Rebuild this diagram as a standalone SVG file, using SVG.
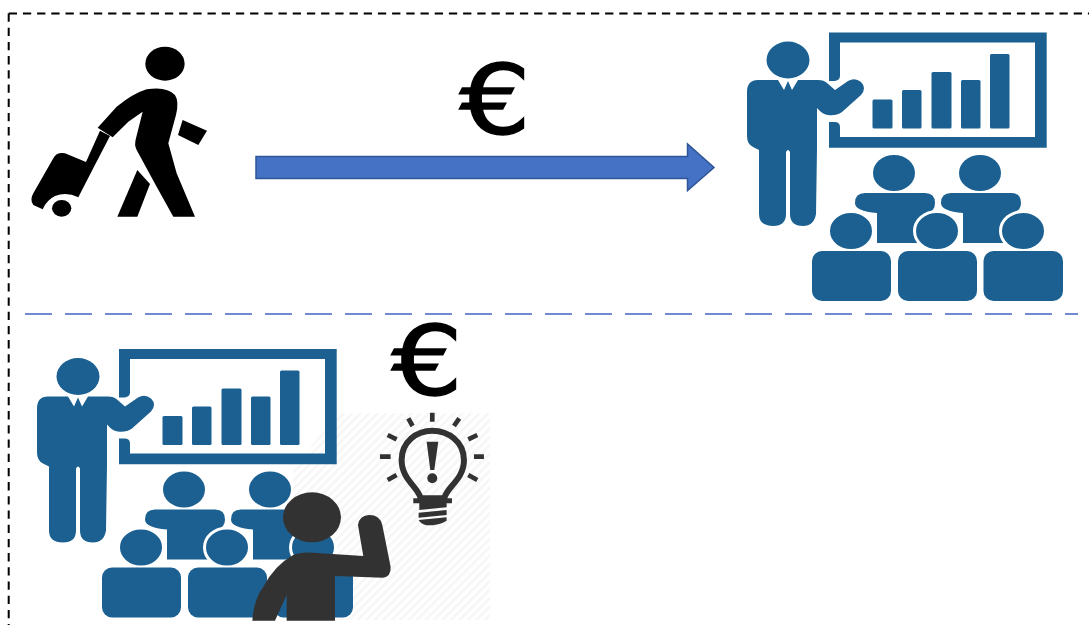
<svg xmlns="http://www.w3.org/2000/svg" width="1089" height="625" viewBox="0 0 1089 625">
<style>
.blue{fill:#1a6091}
.halo{fill:#1a6091;stroke:#fff;stroke-width:3}
.dark{fill:#333}
.ink{fill:#000}
.euro{font-family:"DejaVu Sans",sans-serif;font-size:100px;fill:#000;stroke:#000;stroke-width:1.500;text-anchor:middle}
.ray{stroke:#333;stroke-width:14;fill:none}
</style>
<defs>
<filter id="soft" x="-5%" y="-5%" width="110%" height="110%"><feGaussianBlur stdDeviation="0.5"/></filter>
<pattern id="hatch" width="6" height="6" patternUnits="userSpaceOnUse" patternTransform="rotate(-45)"><rect width="6" height="2.500" fill="#f6f6f6"/></pattern>
<g id="presenter">
<path class="blue" fill-rule="evenodd" d="M829 32.5H1046.7V147.7H829V122H834.5Q840 122 840 127V137H1035V42.5H840V76Q840 80 835 81H829Z"/>
<rect class="blue" x="872.5" y="99.5" width="20" height="29" rx="1.5"/>
<rect class="blue" x="902" y="90" width="19.5" height="38.5" rx="1.5"/>
<rect class="blue" x="931.5" y="72" width="20" height="56.5" rx="1.5"/>
<rect class="blue" x="961" y="80" width="19.5" height="48.5" rx="1.5"/>
<rect class="blue" x="990" y="54" width="19.5" height="74.5" rx="1.5"/>
<ellipse class="blue" cx="788" cy="60" rx="21.5" ry="18.5"/>
<path class="blue" d="M758 80H778L784 90L788 81L792 90L798 80H818Q824 80 827 83L835 90L848 81Q855 77 861 82Q867 88 861 95L842 112Q836 116 828 115Q823 115 817 108V148L816 214Q814 226 803 226Q790 226 790 214V152Q788 148 786 152V214Q786 226 773 226Q759 226 759 214V150L753 147Q747 144 747 136V92Q747 80 758 80Z"/>
<ellipse class="blue" cx="894" cy="173" rx="21" ry="18"/>
<ellipse class="blue" cx="980" cy="173" rx="21" ry="18"/>
<path class="blue" d="M865 193H925Q935 193 935 203Q935 211 927 213V243H877V213Q855 211 855 203Q855 193 865 193Z"/>
<path class="blue" d="M951 193H1011Q1021 193 1021 203Q1021 211 1013 213V243H963V213Q941 211 941 203Q941 193 951 193Z"/>
<ellipse class="halo" cx="851" cy="231" rx="22.5" ry="19.500"/>
<ellipse class="halo" cx="937" cy="231" rx="22.5" ry="19.500"/>
<ellipse class="halo" cx="1023" cy="231" rx="22.5" ry="19.500"/>
<rect class="blue" x="812" y="251" width="79" height="50" rx="10"/>
<rect class="blue" x="898" y="251" width="79" height="50" rx="10"/>
<rect class="blue" x="983.500" y="251" width="79.500" height="50" rx="10"/>
</g>
</defs>
<rect width="1089" height="625" fill="#fff"/>
<g id="frame" fill="none">
<path d="M8.700 13.500H1089M8.700 13.500V625" stroke="#000" stroke-width="2" stroke-dasharray="8.300 5.900"/>
<path d="M25 314H1078" stroke="#7189d2" stroke-width="2" stroke-dasharray="27 13"/>
</g>
<g id="connectors" filter="url(#soft)">
<path d="M256 156.500H687.500V144L714 167.500L687.500 190.500V178.500H256Z" fill="#4472c4" stroke="#2f5597" stroke-width="1.500"/>
</g>
<g id="traveller" filter="url(#soft)">
<g transform="scale(.3333)">
<ellipse class="ink" cx="495" cy="191" rx="59" ry="51"/>
<path class="ink" d="M293 383L350 320Q400 280 440 268Q500 258 525 285Q538 305 528 345L505 430L530 520L585 650H520L470 560L410 450Q402 435 408 415L428 335L385 365L338 412Z"/>
<path class="ink" d="M300 392L330 408L282 500L235 592Q200 575 165 588Q140 600 128 628L100 615Q88 600 100 580L160 475Q170 455 195 460L258 486Z"/>
<ellipse class="ink" cx="185" cy="625" rx="29" ry="25"/>
<path class="ink" d="M412 510L450 552L412 650H352Z"/>
<path class="ink" d="M548 360L621 392L595 435L534 405Z"/>
</g>
</g>
<g id="euro-top"><text class="euro" transform="translate(495 134) scale(1.120 .96)">€</text></g>
<g id="presenter-top" filter="url(#soft)"><use href="#presenter"/></g>
<g id="presenter-bottom" filter="url(#soft)">
<path d="M337 413H490V620H293V470Z" fill="url(#hatch)"/>
<use href="#presenter" x="-710" y="316.500"/>
</g>
<g id="euro-bottom"><text class="euro" transform="translate(427 395) scale(1.120 .96)">€</text></g>
<g id="bulb" filter="url(#soft)">
<g transform="translate(0,320) scale(.3333)">
<path class="ray" d="M1297 278V305M1225 295L1238 318M1378 295L1362 318M1163 345L1190 358M1432 345L1405 358M1140 410H1172M1452 410H1422M1163 480L1190 465M1432 480L1405 465"/>
<path d="M1262 535C1255 500 1205 480 1205 420C1205 365 1250 332 1297 332C1345 332 1392 365 1392 420C1392 480 1340 500 1333 535Z" fill="none" stroke="#333" stroke-width="18"/>
<path class="dark" d="M1280 365H1315L1303 450H1291Z"/>
<circle class="dark" cx="1297" cy="475" r="15"/>
<path class="dark" d="M1240 535H1356V550H1340V562L1258 570V550H1240ZM1256 578L1340 570V585L1256 593ZM1256 600L1340 592V602Q1320 616 1280 616Q1262 612 1256 600Z"/>
</g>
</g>
<g id="student" filter="url(#soft)">
<g transform="translate(0,320) scale(.3333)">
<ellipse class="dark" cx="936" cy="592" rx="87" ry="75"/>
<path class="dark" d="M757 902Q762 835 790 800Q825 735 880 705Q900 695 940 698L1090 708L1074 615Q1078 586 1108 585Q1140 585 1147 615L1172 740Q1174 770 1148 773L1005 768V902H860V825L825 902Z"/>
</g>
</g>
</svg>
